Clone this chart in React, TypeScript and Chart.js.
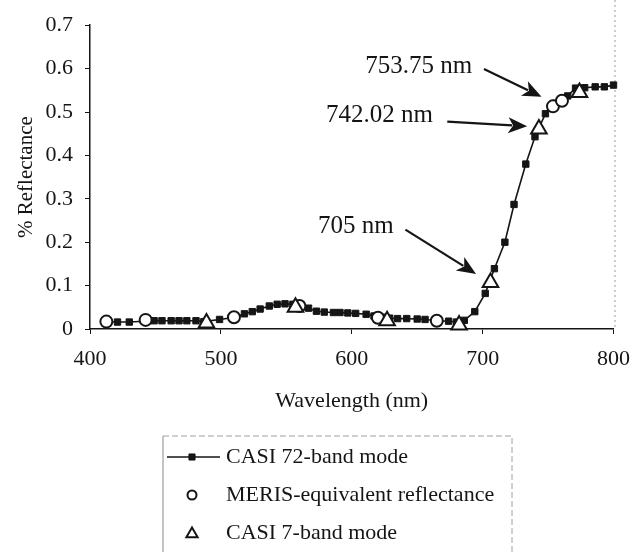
import React, { useEffect, useRef } from "react";
import { Chart, registerables } from "chart.js";

Chart.register(...registerables);

// ---------- DATA ----------
const casi72Wavelengths = [
  412, 421, 430, 449, 455, 462, 468, 474, 481, 487, 499, 511, 518, 524, 530, 537,
  543, 549, 555, 561, 567, 573, 579, 586, 591, 597, 603, 611, 617, 623, 629, 635,
  642, 650, 656, 666, 674, 680, 686, 694, 702, 709, 717, 724, 733, 740, 748, 756,
  765, 771, 778, 786, 793, 800,
];
const casi72Reflectance = [
  0.016, 0.016, 0.016, 0.019, 0.019, 0.019, 0.019, 0.019, 0.019, 0.017, 0.022, 0.027, 0.035, 0.04, 0.046, 0.053,
  0.057, 0.058, 0.057, 0.053, 0.048, 0.041, 0.039, 0.038, 0.038, 0.037, 0.036, 0.034, 0.03, 0.027, 0.025, 0.024,
  0.024, 0.023, 0.022, 0.019, 0.018, 0.016, 0.02, 0.04, 0.082, 0.139, 0.2, 0.287, 0.38, 0.443, 0.496, 0.52,
  0.537, 0.555, 0.556, 0.558, 0.558, 0.562,
];
const merisWavelengths = [412.5, 442.5, 510, 560, 620, 665, 753.75, 760.625];
const merisReflectance = [0.017, 0.021, 0.027, 0.053, 0.026, 0.019, 0.513, 0.526];
const casi7Wavelengths = [489, 557, 627, 682, 706, 743, 774];
const casi7Reflectance = [0.014, 0.05, 0.019, 0.009, 0.107, 0.461, 0.545];

const seriesLabels = [
  "CASI 72-band mode",
  "MERIS-equivalent reflectance",
  "CASI 7-band mode",
];
const xTickValues = [400, 500, 600, 700, 800];
const yTickValues = [0, 0.1, 0.2, 0.3, 0.4, 0.5, 0.6, 0.7];
const yTickLabels = ["0", "0.1", "0.2", "0.3", "0.4", "0.5", "0.6", "0.7"];
const xTitle = "Wavelength (nm)";
const yTitle = "% Reflectance";
const annotationLabels = ["753.75 nm", "742.02 nm", "705 nm"];

// ---------- LAYOUT / STYLE ----------
const FONT = "'Liberation Serif', 'Times New Roman', serif";
const INK = "#151515";
// annotation geometry in data coordinates: text right edge, arrow start, arrow tip
const annotationGeometry = [
  { text: [692, 0.605], from: [701, 0.599], to: [745, 0.535] },
  { text: [662, 0.492], from: [673, 0.478], to: [734, 0.467] },
  { text: [632, 0.236], from: [641, 0.229], to: [695, 0.127] },
];
const LEGEND = {
  left: 163,
  top: 436,
  right: 512,
  bottom: 570,
  rows: [457, 495, 533],
  symbolX: 192,
  lineX0: 167,
  lineX1: 220,
  textX: 226,
};

function drawSymbol(ctx: CanvasRenderingContext2D, style: string, x: number, y: number, r: number, fill: string) {
  ctx.beginPath();
  if (style === "rect") {
    const h = r * Math.SQRT1_2;
    ctx.rect(x - h, y - h, 2 * h, 2 * h);
  } else if (style === "circle") {
    ctx.arc(x, y, r, 0, Math.PI * 2);
  } else {
    const a = (2 * Math.PI) / 3;
    ctx.moveTo(x, y - r);
    ctx.lineTo(x + Math.sin(a) * r, y - Math.cos(a) * r);
    ctx.lineTo(x + Math.sin(2 * a) * r, y - Math.cos(2 * a) * r);
    ctx.closePath();
  }
  ctx.fillStyle = fill;
  ctx.fill();
  ctx.stroke();
}

const frameAndAnnotations = {
  id: "frameAndAnnotations",
  beforeDatasetsDraw(chart: any) {
    const { ctx, chartArea } = chart;
    ctx.save();
    ctx.strokeStyle = "#9a9a9a";
    ctx.lineWidth = 1;
    ctx.setLineDash([2, 3]);
    ctx.beginPath();
    ctx.moveTo(chartArea.right + 1.5, 0);
    ctx.lineTo(chartArea.right + 1.5, chartArea.bottom);
    ctx.stroke();
    ctx.restore();
  },
  afterDraw(chart: any) {
    const { ctx } = chart;
    const xs = chart.scales.x;
    const ys = chart.scales.y;
    ctx.save();
    // annotations
    annotationGeometry.forEach((g, i) => {
      const tx = xs.getPixelForValue(g.text[0]);
      const ty = ys.getPixelForValue(g.text[1]);
      ctx.font = `25px ${FONT}`;
      ctx.fillStyle = INK;
      ctx.textAlign = "right";
      ctx.textBaseline = "middle";
      ctx.fillText(annotationLabels[i], tx, ty);
      const x0 = xs.getPixelForValue(g.from[0]);
      const y0 = ys.getPixelForValue(g.from[1]);
      const x1 = xs.getPixelForValue(g.to[0]);
      const y1 = ys.getPixelForValue(g.to[1]);
      const ang = Math.atan2(y1 - y0, x1 - x0);
      const headLen = 19;
      const headHalf = 8;
      const bx = x1 - Math.cos(ang) * headLen;
      const by = y1 - Math.sin(ang) * headLen;
      ctx.strokeStyle = INK;
      ctx.lineWidth = 2.2;
      ctx.beginPath();
      ctx.moveTo(x0, y0);
      ctx.lineTo(bx + Math.cos(ang) * 4, by + Math.sin(ang) * 4);
      ctx.stroke();
      ctx.fillStyle = INK;
      ctx.beginPath();
      ctx.moveTo(x1, y1);
      ctx.lineTo(bx - Math.sin(ang) * headHalf, by + Math.cos(ang) * headHalf);
      ctx.lineTo(bx + Math.cos(ang) * 5, by + Math.sin(ang) * 5);
      ctx.lineTo(bx + Math.sin(ang) * headHalf, by - Math.cos(ang) * headHalf);
      ctx.closePath();
      ctx.fill();
    });

    // legend box
    const L = LEGEND;
    ctx.lineWidth = 1;
    ctx.strokeStyle = "#8a8a8a";
    ctx.setLineDash([]);
    ctx.beginPath();
    ctx.moveTo(L.left, L.bottom);
    ctx.lineTo(L.left, L.top);
    ctx.stroke();
    ctx.setLineDash([6, 3]);
    ctx.strokeStyle = "#a0a0a0";
    ctx.beginPath();
    ctx.moveTo(L.left, L.top);
    ctx.lineTo(L.right, L.top);
    ctx.lineTo(L.right, L.bottom);
    ctx.stroke();
    ctx.setLineDash([]);

    chart.data.datasets.forEach((ds: any, i: number) => {
      const y = L.rows[i];
      ctx.strokeStyle = INK;
      if (ds.showLine) {
        ctx.lineWidth = 1.5;
        ctx.beginPath();
        ctx.moveTo(L.lineX0, y);
        ctx.lineTo(L.lineX1, y);
        ctx.stroke();
      }
      const r = ds.pointStyle === "rect" ? 4.3 : ds.pointStyle === "circle" ? 4.5 : 6.5;
      ctx.lineWidth = ds.pointStyle === "rect" ? 1 : 2;
      drawSymbol(ctx, ds.pointStyle, L.symbolX, y + (ds.pointStyle === "triangle" ? 1 : 0), r, ds.pointBackgroundColor);
      ctx.fillStyle = INK;
      ctx.font = `22px ${FONT}`;
      ctx.textAlign = "left";
      ctx.textBaseline = "middle";
      ctx.fillText(ds.label, L.textX, y);
    });
    ctx.restore();
  },
};

export default function App() {
  const canvasRef = useRef<HTMLCanvasElement | null>(null);

  useEffect(() => {
    if (!canvasRef.current) return;
    const toPoints = (xs: number[], ys: number[]) => xs.map((x, i) => ({ x, y: ys[i] }));
    const chart = new Chart(canvasRef.current, {
      type: "scatter",
      data: {
        datasets: [
          {
            label: seriesLabels[0],
            data: toPoints(casi72Wavelengths, casi72Reflectance),
            showLine: true,
            borderColor: INK,
            borderWidth: 1.6,
            pointStyle: "rect",
            pointRadius: 4.5,
            pointBorderWidth: 1,
            pointBackgroundColor: INK,
            pointBorderColor: INK,
            clip: false,
            order: 3,
          } as any,
          {
            label: seriesLabels[1],
            data: toPoints(merisWavelengths, merisReflectance),
            showLine: false,
            pointStyle: "circle",
            pointRadius: 6,
            pointBorderWidth: 2,
            pointBackgroundColor: "#ffffff",
            pointBorderColor: INK,
            clip: false,
            order: 2,
          } as any,
          {
            label: seriesLabels[2],
            data: toPoints(casi7Wavelengths, casi7Reflectance),
            showLine: false,
            pointStyle: "triangle",
            pointRadius: 9,
            pointBorderWidth: 2,
            pointBackgroundColor: "#ffffff",
            pointBorderColor: INK,
            clip: false,
            order: 1,
          } as any,
        ],
      },
      options: {
        responsive: false,
        animation: false,
        devicePixelRatio: 1,
        layout: { padding: { left: 0, top: 20, right: 20, bottom: 133 } },
        plugins: {
          legend: { display: false },
          tooltip: { enabled: false },
        },
        scales: {
          x: {
            type: "linear",
            min: 400,
            max: 800,
            afterBuildTicks: (s: any) => {
              s.ticks = xTickValues.map((v) => ({ value: v }));
            },
            afterFit: (s: any) => {
              s.height = 90;
            },
            grid: { drawOnChartArea: false, drawTicks: true, tickLength: 5, color: INK, lineWidth: 1 },
            border: { color: INK, width: 1.5 },
            ticks: {
              font: { family: FONT, size: 22 },
              color: INK,
              padding: 12,
              maxRotation: 0,
              callback: (v: any) => String(v),
            },
            title: {
              display: true,
              text: xTitle,
              font: { family: FONT, size: 22 },
              color: INK,
              padding: { top: 0, bottom: 5 },
            },
          },
          y: {
            type: "linear",
            min: 0,
            max: 0.7,
            afterBuildTicks: (s: any) => {
              s.ticks = yTickValues.map((v) => ({ value: v }));
            },
            afterFit: (s: any) => {
              s.width = 90;
            },
            grid: { drawOnChartArea: false, drawTicks: true, tickLength: 5, color: INK, lineWidth: 1 },
            border: { color: INK, width: 1.5 },
            ticks: {
              font: { family: FONT, size: 22 },
              color: INK,
              padding: 12,
              callback: (v: any) => {
                const idx = yTickValues.findIndex((t) => Math.abs(t - v) < 1e-6);
                return idx >= 0 ? yTickLabels[idx] : "";
              },
            },
            title: {
              display: true,
              text: yTitle,
              font: { family: FONT, size: 21 },
              color: INK,
              padding: { top: 14, bottom: 0 },
            },
          },
        },
      },
      plugins: [frameAndAnnotations],
    } as any);
    return () => chart.destroy();
  }, []);

  return (
    <div style={{ position: "fixed", left: 0, top: 0, width: 642, height: 552, background: "#fff" }}>
      <canvas ref={canvasRef} width={642} height={552} style={{ display: "block", width: 642, height: 552 }} />
    </div>
  );
}
